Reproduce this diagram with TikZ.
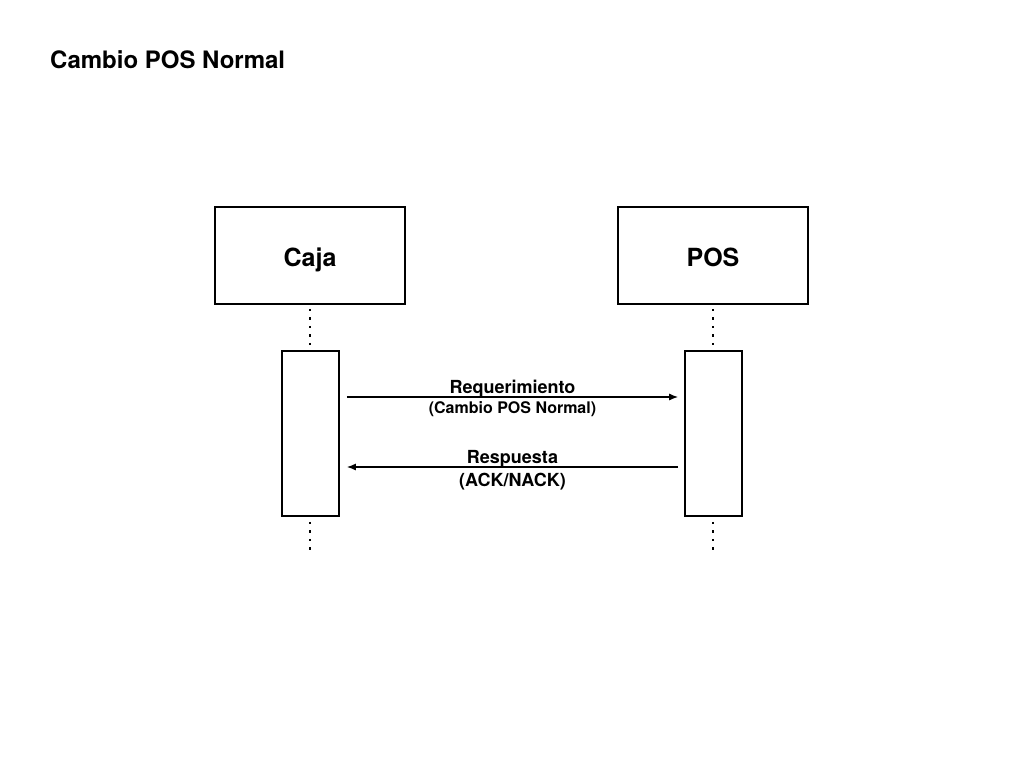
\documentclass[tikz,border=0pt]{standalone}
\usepackage{fontspec}
\setmainfont{TeX Gyre Heros}
\usetikzlibrary{arrows.meta,positioning}

\begin{document}
\begin{tikzpicture}[x=1pt,y=-1pt,font=\bfseries,
    actor/.style={draw,line width=1.6pt,minimum width=190pt,minimum height=97pt,
      inner sep=0pt,text height=21pt,text depth=0pt,font=\fontsize{25}{28}\selectfont\bfseries},
    activ/.style={draw,line width=1.6pt,minimum width=57pt,minimum height=165pt,inner sep=0pt},
    lifeline/.style={line width=2.6pt,dash pattern=on 2.6pt off 5.9pt},
    msg/.style={-{Latex[length=9pt,width=7pt]},line width=1.4pt},
    lbl/.style={font=\fontsize{18}{20}\selectfont\bfseries,inner sep=1pt},
    sublbl/.style={font=\fontsize{16}{18}\selectfont\bfseries,inner sep=1pt}]

  \useasboundingbox (0,0) rectangle (1024,768);

  \node[anchor=west,inner sep=0pt,font=\fontsize{24}{28}\selectfont\bfseries] (title) at (50,60) {Cambio POS Normal};

  \node[actor] (caja) at (310,255.5) {Caja};
  \node[actor] (pos) at (713,255.5) {POS};

  \node[activ] (actcaja) at (310.5,433.5) {};
  \node[activ] (actpos) at (713.5,433.5) {};

  \coordinate (cajaend) at (310,551);
  \coordinate (posend) at (713,551);

  % lifelines
  \draw[lifeline] ([yshift=-4pt]caja.south) -- ([yshift=4pt]caja.south |- actcaja.north);
  \draw[lifeline] ([yshift=-4pt]pos.south) -- ([yshift=4pt]pos.south |- actpos.north);
  \draw[lifeline] ([yshift=-5pt]caja.south |- actcaja.south) -- (cajaend);
  \draw[lifeline] ([yshift=-5pt]pos.south |- actpos.south) -- (posend);

  % messages
  \draw[msg] ([xshift=7pt,yshift=36.5pt]actcaja.east) -- ([xshift=-6pt,yshift=36.5pt]actpos.west)
    node[lbl,midway,above=-2.5pt] (req) {Requerimiento}
    node[sublbl,midway,below=3pt] (reqsub) {(Cambio POS Normal)};
  \draw[msg] ([xshift=-6pt,yshift=-33.5pt]actpos.west) -- ([xshift=7pt,yshift=-33.5pt]actcaja.east)
    node[lbl,midway,above=-2pt] (resp) {Respuesta}
    node[lbl,midway,below=4.5pt] (respsub) {(ACK/NACK)};

\end{tikzpicture}
\end{document}
